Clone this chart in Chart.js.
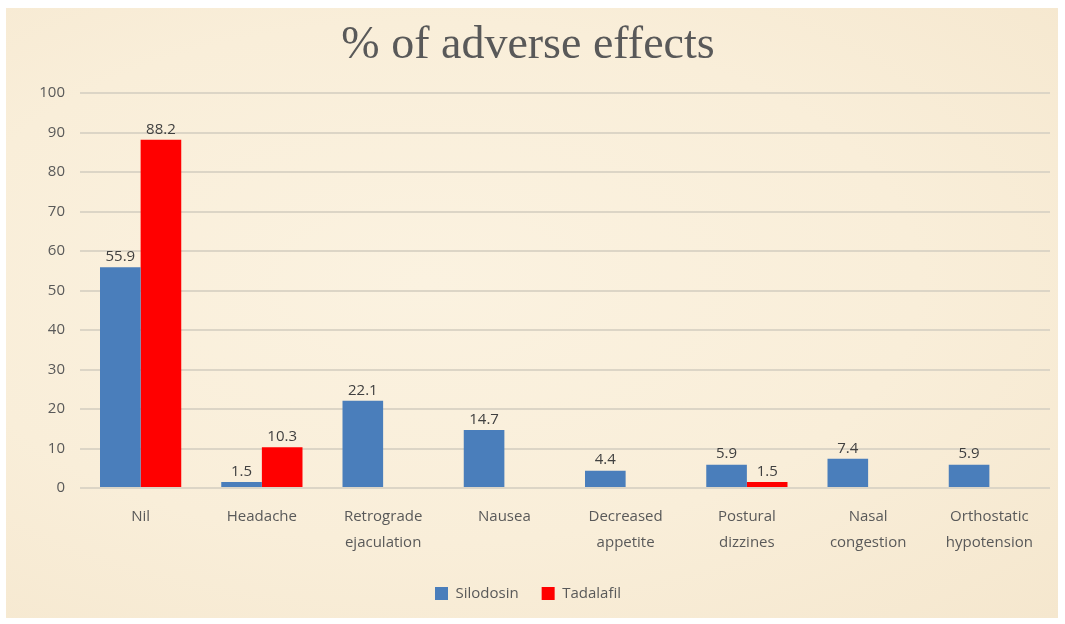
<!DOCTYPE html>
<html>
<head>
<meta charset="utf-8">
<script src="https://cdn.jsdelivr.net/npm/chart.js@4.4.1/dist/chart.umd.min.js"></script>
<style>
    html, body { margin: 0; padding: 0; background: #ffffff; }
    .panel {
        position: absolute;
        left: 6px;
        top: 8px;
        width: 1052px;
        height: 610px;
        background: radial-gradient(ellipse at 40% 45%, #fbf2e0 0%, #f9eed9 55%, #f5e7ce 100%);
    }
</style>
</head>
<body>
<div class="panel"><canvas id="effectsChart"></canvas></div>
<script>
const categories = [
    'Nil', 'Headache', ['Retrograde', 'ejaculation'], 'Nausea',
    ['Decreased', 'appetite'], ['Postural', 'dizzines'], ['Nasal', 'congestion'], ['Orthostatic', 'hypotension']
];
const silodosin = [55.9, 1.5, 22.1, 14.7, 4.4, 5.9, 7.4, 5.9];
const tadalafil = [88.2, 10.3, null, null, null, 1.5, null, null];
const yTicks = [0, 10, 20, 30, 40, 50, 60, 70, 80, 90, 100];

const labelFont = '"Open Sans", "Liberation Sans", sans-serif';

// Draws the value above each bar
const valueLabels = {
    id: 'valueLabels',
    afterDatasetsDraw(chart) {
        const ctx = chart.ctx;
        ctx.save();
        ctx.font = '15px ' + labelFont;
        ctx.fillStyle = '#404040';
        ctx.textAlign = 'center';
        ctx.textBaseline = 'bottom';
        chart.data.datasets.forEach((ds, i) => {
            const meta = chart.getDatasetMeta(i);
            meta.data.forEach((bar, j) => {
                const v = ds.data[j];
                if (v === null) return;
                ctx.fillText(v.toFixed(1), bar.x, bar.y - 3);
            });
        });
        ctx.restore();
    }
};

document.addEventListener('DOMContentLoaded', function() {
    const ctx = document.getElementById('effectsChart');
    new Chart(ctx, {
        type: 'bar',
        data: {
            labels: categories,
            datasets: [{
                label: 'Silodosin',
                data: silodosin,
                backgroundColor: '#4a7ebb'
            }, {
                label: 'Tadalafil',
                data: tadalafil,
                backgroundColor: '#ff0000'
            }]
        },
        options: {
            responsive: true,
            maintainAspectRatio: false,
            animation: false,
            categoryPercentage: 0.67,
            barPercentage: 1.0,
            layout: { padding: { left: 0, right: 8, top: 8, bottom: 7 } },
            plugins: {
                title: {
                    display: true,
                    text: '% of adverse effects',
                    color: '#595959',
                    font: { family: '"Liberation Serif", serif', size: 46, weight: 'normal' },
                    padding: { top: 2, bottom: 20 }
                },
                legend: {
                    position: 'bottom',
                    labels: {
                        boxWidth: 13,
                        boxHeight: 13,
                        color: '#595959',
                        font: { family: labelFont, size: 15 },
                        padding: 23
                    }
                },
                tooltip: { enabled: false }
            },
            scales: {
                x: {
                    grid: { display: false },
                    border: { display: false },
                    ticks: {
                        color: '#595959',
                        font: { family: labelFont, size: 15, lineHeight: 1.7 },
                        maxRotation: 0,
                        autoSkip: false,
                        padding: 8
                    }
                },
                y: {
                    min: 0,
                    max: 100,
                    afterFit(scale) { scale.width = 74; },
                    afterBuildTicks(scale) { scale.ticks = yTicks.map(v => ({ value: v })); },
                    grid: { color: '#dcd5c6', lineWidth: 2, drawTicks: false },
                    border: { display: false },
                    ticks: {
                        color: '#595959',
                        font: { family: labelFont, size: 15 },
                        padding: 15
                    }
                }
            }
        },
        plugins: [valueLabels]
    });
});
</script>
</body>
</html>
